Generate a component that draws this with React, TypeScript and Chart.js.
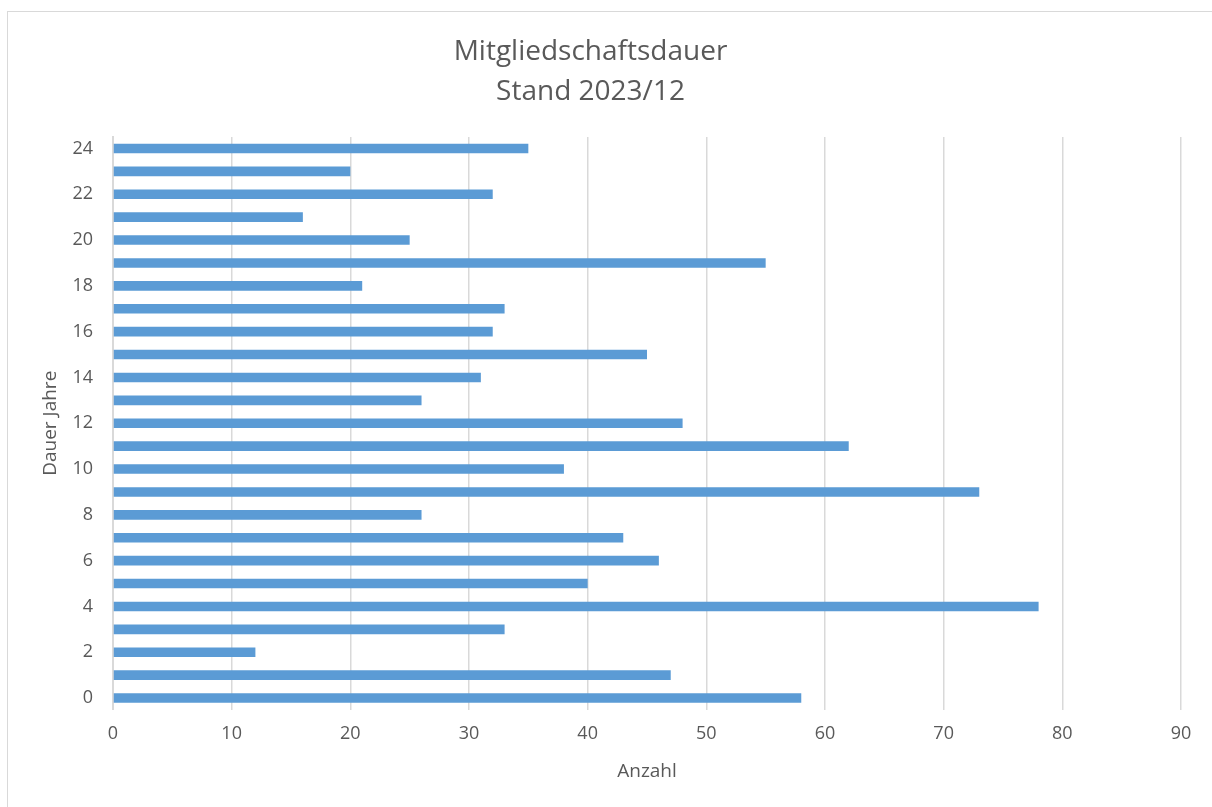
import React, { useEffect, useRef } from "react";
import { Chart, registerables } from "chart.js";

Chart.register(...registerables);

const categories: string[] = [
  "0", "1", "2", "3", "4", "5", "6", "7", "8", "9", "10", "11", "12",
  "13", "14", "15", "16", "17", "18", "19", "20", "21", "22", "23", "24",
];
const anzahl: number[] = [
  58, 47, 12, 33, 78, 40, 46, 43, 26, 73, 38, 62, 48,
  26, 31, 45, 32, 33, 21, 55, 25, 16, 32, 20, 35,
];
const titleLines: string[] = ["Mitgliedschaftsdauer", "Stand 2023/12"];
const xTitle = "Anzahl";
const yTitle = "Dauer Jahre";

const FONT = "'Open Sans', sans-serif";
const TEXT = "#595959";
const GRID = "#d9d9d9";

export default function App() {
  const ref = useRef<HTMLCanvasElement | null>(null);

  useEffect(() => {
    document.body.style.margin = "0";
    document.body.style.overflow = "hidden";
    const canvas = ref.current;
    if (!canvas) return;
    const chart = new Chart(canvas, {
      type: "bar",
      data: {
        labels: categories,
        datasets: [
          {
            label: xTitle,
            data: anzahl,
            backgroundColor: "#5b9bd5",
            borderWidth: 0,
            barPercentage: 0.42,
            categoryPercentage: 1,
          },
        ],
      },
      options: {
        indexAxis: "y",
        animation: false,
        responsive: false,
        maintainAspectRatio: false,
        layout: { padding: { left: 0, right: 31, top: 0, bottom: 0 } },
        plugins: {
          legend: { display: false },
          tooltip: { enabled: false },
          title: {
            display: true,
            text: titleLines,
            color: TEXT,
            font: { family: FONT, size: 28, weight: "normal", lineHeight: 40 / 28 },
            padding: { top: 32, bottom: 25 },
          },
        },
        scales: {
          x: {
            type: "linear",
            min: 0,
            max: 90,
            ticks: {
              stepSize: 10,
              color: TEXT,
              font: { family: FONT, size: 18 },
              padding: 14,
            },
            grid: { color: GRID, lineWidth: 1.5, drawTicks: false },
            border: { display: false },
            title: {
              display: true,
              text: xTitle,
              color: TEXT,
              font: { family: FONT, size: 19 },
              padding: { top: 4, bottom: 24 },
            },
            afterFit: (scale: any) => {
              scale.height = 807 - 709.5;
            },
          },
          y: {
            type: "category",
            reverse: true,
            ticks: {
              autoSkip: false,
              color: TEXT,
              font: { family: FONT, size: 18 },
              padding: 20,
              callback: (_v: any, idx: number) =>
                idx % 2 === 0 ? categories[idx] : "",
            },
            grid: { display: false, drawTicks: false },
            border: { display: true, color: GRID, width: 2 },
            title: {
              display: true,
              text: yTitle,
              color: TEXT,
              font: { family: FONT, size: 19 },
              padding: { top: 39, bottom: 0 },
            },
            afterFit: (scale: any) => {
              scale.width = 113;
            },
          },
        },
      },
    });
    return () => chart.destroy();
  }, []);

  return (
    <div
      style={{
        position: "fixed",
        left: 0,
        top: 0,
        width: 1212,
        height: 807,
        overflow: "hidden",
        background: "#ffffff",
      }}
    >
      <div
        style={{
          position: "absolute",
          left: 7,
          top: 11,
          width: 1260,
          height: 860,
          border: "1.5px solid #d9d9d9",
          boxSizing: "border-box",
        }}
      />
      <canvas
        ref={ref}
        width={1212}
        height={807}
        style={{ position: "absolute", left: 0, top: 0, width: 1212, height: 807 }}
      />
    </div>
  );
}
